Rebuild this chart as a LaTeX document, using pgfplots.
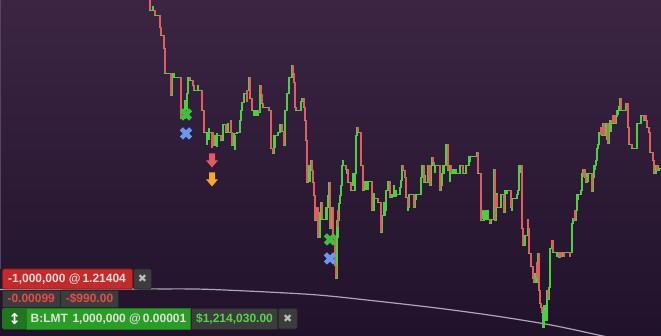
\documentclass[border=0pt]{standalone}
\usepackage{pgfplots}
\usepackage{pgfplotstable}
\pgfplotsset{compat=1.18}
\usepackage{fontspec}
\setmainfont{Liberation Sans}
\newfontfamily\symfont{DejaVu Sans}

\definecolor{bgtop}{RGB}{59,37,67}
\definecolor{bgbot}{RGB}{33,18,43}
\definecolor{cgreen}{RGB}{76,208,66}
\definecolor{cred}{RGB}{226,94,94}
\definecolor{xgreen}{RGB}{62,192,58}
\definecolor{xblue}{RGB}{104,152,240}
\definecolor{ared}{RGB}{230,88,98}
\definecolor{aorange}{RGB}{246,168,40}
\definecolor{boxred}{RGB}{196,42,42}
\definecolor{boxredd}{RGB}{150,20,20}
\definecolor{boxgrey}{RGB}{60,60,62}
\definecolor{boxgreyd}{RGB}{38,38,40}
\definecolor{boxgreen}{RGB}{40,158,36}
\definecolor{boxgreend}{RGB}{28,120,26}
\definecolor{txtlight}{RGB}{226,222,222}
\definecolor{txtred}{RGB}{236,72,72}
\definecolor{txtgreen}{RGB}{86,212,72}
\definecolor{curvec}{RGB}{172,168,182}

\pgfdeclareplotmark{fatx}{%
  \pgfpathmoveto{\pgfqpoint{0pt}{3.11pt}}
  \pgfpathlineto{\pgfqpoint{-3.04pt}{6.15pt}}
  \pgfpathlineto{\pgfqpoint{-6.15pt}{3.04pt}}
  \pgfpathlineto{\pgfqpoint{-3.11pt}{0pt}}
  \pgfpathlineto{\pgfqpoint{-6.15pt}{-3.04pt}}
  \pgfpathlineto{\pgfqpoint{-3.04pt}{-6.15pt}}
  \pgfpathlineto{\pgfqpoint{0pt}{-3.11pt}}
  \pgfpathlineto{\pgfqpoint{3.04pt}{-6.15pt}}
  \pgfpathlineto{\pgfqpoint{6.15pt}{-3.04pt}}
  \pgfpathlineto{\pgfqpoint{3.11pt}{0pt}}
  \pgfpathlineto{\pgfqpoint{6.15pt}{3.04pt}}
  \pgfpathlineto{\pgfqpoint{3.04pt}{6.15pt}}
  \pgfpathclose
  \pgfusepathqfill}
\pgfdeclareplotmark{darrow}{%
  \pgfpathmoveto{\pgfqpoint{-3pt}{7pt}}
  \pgfpathlineto{\pgfqpoint{3pt}{7pt}}
  \pgfpathlineto{\pgfqpoint{3pt}{0pt}}
  \pgfpathlineto{\pgfqpoint{6pt}{0pt}}
  \pgfpathlineto{\pgfqpoint{0pt}{-7pt}}
  \pgfpathlineto{\pgfqpoint{-6pt}{0pt}}
  \pgfpathlineto{\pgfqpoint{-3pt}{0pt}}
  \pgfpathclose
  \pgfusepathqfill}

% price path (x = bar position, y = screen level, larger = lower price)
\pgfplotstableread{
x y
150 0
150 10
155 15
160 27
161 35
163 35
164 48
165 73
170 73
171 95
172 77
176 77
181 118
185 100
187 93
188 77
190 80
193 85
194 90
201 90
202 110
204 132
212 132
213 145
215 135
220 135
221 140
223 124
226 132
231 132
232 145
234 133
237 132
240 120
241 110
242 102
244 93
247 90
249 77
250 98
252 110
259 112
260 85
261 94
262 103
263 107
268 107
269 110
271 110
271 148
273 153
274 135
278 132
280 124
282 131
284 145
285 110
287 93
289 77
292 65
293 73
294 82
295 107
296 110
300 110
301 101
303 98
304 107
305 120
306 140
307 182
308 177
309 165
311 160
312 170
313 182
314 195
315 220
317 207
318 237
319 237
320 219
321 202
322 219
327 219
327 207
328 195
329 182
330 228
331 220
332 207
333 237
334 237
335 265
336 278
337 237
338 220
339 203
340 195
341 185
342 165
345 165
346 169
348 182
350 182
351 190
354 190
355 173
356 135
357 127
358 132
361 132
361 165
363 190
364 181
370 181
372 210
374 198
377 198
378 202
381 202
381 232
382 215
385 210
386 190
388 181
390 197
392 194
397 194
400 187
401 180
402 165
403 170
405 177
406 197
408 207
409 194
414 194
414 207
415 194
418 194
421 177
422 165
424 182
427 182
428 165
430 185
431 165
432 157
433 162
434 165
440 165
440 190
441 185
442 173
444 165
446 144
448 170
450 165
451 173
459 173
460 165
463 173
466 165
469 156
476 156
477 152
478 173
480 173
481 220
484 210
484 219
489 219
490 223
491 219
494 169
495 220
496 195
497 207
501 207
501 194
504 194
504 212
505 190
508 190
511 207
512 198
517 194
518 190
519 165
521 165
522 228
523 245
525 235
528 228
529 253
531 266
533 278
534 282
536 282
537 262
538 253
539 290
540 303
541 307
542 312
543 327
544 305
545 312
546 320
547 290
548 299
549 287
550 248
552 240
553 252
559 252
559 257
560 252
571 252
572 223
573 218
574 220
576 210
577 194
580 194
581 190
582 173
583 169
585 177
586 182
587 173
592 173
592 191
593 177
594 165
596 160
597 148
598 144
599 132
601 127
602 135
603 123
604 135
606 123
608 143
609 125
610 120
612 123
613 115
615 123
616 116
617 110
619 106
620 98
621 110
626 110
627 103
628 127
629 144
631 144
632 148
636 148
637 123
640 123
641 115
644 115
644 120
647 127
649 132
650 152
651 152
653 160
654 173
656 165
657 170
659 168
661 168
}\pathdata

% falling moves (x, top, bottom)
\pgfplotstableread{
x t b
150 0 10
155 10 15
160 15 27
161 27 35
164 35 48
165 48 73
171 73 95
181 77 118
190 77 80
193 80 85
194 85 90
202 90 110
204 110 132
212 132 148
213 132 145
221 135 140
226 124 132
231 120 132
232 132 145
247 90 102
250 77 98
252 98 110
259 110 112
261 85 94
262 94 103
263 103 107
269 107 110
271 110 148
273 148 153
282 124 131
284 131 145
293 65 73
294 73 82
295 82 107
296 107 110
304 98 107
305 107 120
306 120 140
307 140 182
312 160 170
313 170 182
314 182 195
315 195 220
317 207 220
318 207 237
322 202 219
330 182 228
333 207 237
335 237 265
336 265 278
338 210 227
346 165 169
348 169 182
351 182 190
358 127 132
361 132 165
363 165 190
372 181 210
378 198 202
381 202 232
390 181 197
403 165 170
405 170 177
406 177 197
408 197 207
414 194 207
424 165 182
429 165 182
430 165 185
433 157 162
434 162 165
440 165 190
448 144 170
451 165 173
463 165 173
478 152 173
481 173 220
490 219 223
495 169 220
497 195 207
504 194 212
511 190 207
522 165 228
523 228 245
528 219 228
529 228 253
531 253 266
533 266 278
534 278 282
537 262 278
539 253 290
540 290 303
541 303 307
542 307 312
548 290 299
552 240 245
553 240 252
559 252 257
561 252 257
564 252 257
570 252 257
574 218 220
575 210 220
584 169 177
585 169 177
586 177 182
592 173 191
601 127 135
602 127 135
604 123 135
608 123 143
612 120 123
613 115 123
615 115 123
621 98 110
627 103 111
628 103 127
629 127 144
632 144 148
644 115 120
646 115 120
647 120 127
649 127 132
650 132 152
653 152 160
654 160 173
657 165 170
}\redseg

% rising wicks and bodies (x, top, bottom)
\pgfplotstableread{
x t b
153 6 10
173 73 77
174 73 77
187 98 110
198 85 90
207 132 145
209 128 140
217 133 147
228 123 132
235 135 150
254 110 116
256 110 116
258 110 116
275 135 148
302 98 102
309 165 182
310 165 182
320 212 225
326 207 219
337 220 237
343 160 165
347 169 174
353 173 186
366 181 190
368 181 190
374 193 198
384 202 215
394 185 197
396 190 197
408 198 211
416 194 200
425 175 182
435 165 173
443 165 173
450 165 182
452 169 173
454 169 173
456 169 173
470 156 162
482 210 219
483 210 219
486 210 219
488 210 219
497 193 207
506 190 194
507 190 194
512 198 211
520 165 173
524 235 242
535 273 282
538 255 275
545 305 320
557 252 257
563 252 257
578 194 200
588 173 182
595 165 170
607 125 140
611 120 132
618 110 115
626 103 111
655 165 173
658 165 170
}\greenseg

\begin{document}
\begin{tikzpicture}
\shade[top color=bgtop, bottom color=bgbot] (0,0) rectangle (661pt,335pt);
\draw[color={rgb,255:red,88;green,68;blue,98}, line width=0.8pt] (0.4pt,335pt) -- (0.4pt,66pt);
\begin{axis}[at={(0,0)}, anchor=south west, width=661pt, height=335pt,
  scale only axis, xmin=0, xmax=661, ymin=0, ymax=335, y dir=reverse,
  hide axis, clip=true]
  \addplot[curvec, line width=1.2pt, smooth] coordinates {
    (0,289) (100,288.6) (160,288.5) (210,289) (310,294) (375,300.5)
    (440,308) (495,315.5) (545,323.5) (575,329.5) (600,335) (620,339)};
  \addplot[cgreen, line width=1.4pt, const plot] table[x=x,y=y] {\pathdata};
  \addplot[cgreen, line width=1.4pt, quiver={u=0, v=\thisrow{b}-\thisrow{t}}]
     table[x=x,y=t] {\greenseg};
  \addplot[cred, line width=1.4pt, quiver={u=0, v=\thisrow{b}-\thisrow{t}}]
     table[x=x,y=t] {\redseg};
  \addplot[only marks, mark=fatx, color=xgreen] coordinates {(186,114) (330,239)};
  \addplot[only marks, mark=fatx, color=xblue] coordinates {(186,133) (330,258)};
  \addplot[only marks, mark=darrow, color=ared] coordinates {(212,160)};
  \addplot[only marks, mark=darrow, color=aorange] coordinates {(212,179)};
\end{axis}
\begin{scope}[yshift=335pt, x=1pt, y=-1pt, every node/.style={font=\bfseries\fontsize{12}{14}\selectfont, inner sep=0pt}]
  % row 1
  \filldraw[fill=boxred, draw=boxredd, line width=0.8pt, rounded corners=1.5pt] (2.5,268.5) rectangle (132.5,288.5);
  \node[text=txtlight] at (67,278.8) {-1,000,000 @\hspace{2pt}1.21404};
  \filldraw[fill=boxgrey, draw=boxgreyd, line width=0.8pt, rounded corners=1.5pt] (133.5,268.5) rectangle (151.5,288.5);
  \node[text={rgb,255:red,190;green,190;blue,190}, font=\symfont\fontsize{11}{13}\selectfont] at (142.5,278.5) {✖};
  % row 2
  \filldraw[fill=boxgrey, draw=boxgreyd, line width=0.8pt] (2.5,289.5) rectangle (60,306.5);
  \node[text=txtred] at (31.2,298.3) {-0.00099};
  \filldraw[fill=boxgrey, draw=boxgreyd, line width=0.8pt] (60.8,289.5) rectangle (118.3,306.5);
  \node[text=txtred] at (89.5,298.3) {-\$990.00};
  % row 3
  \filldraw[fill=boxgreend, draw=boxgreend, line width=0.8pt, rounded corners=1.5pt] (2.5,308) rectangle (26.7,328.5);
  \node[text=white, font=\symfont\bfseries\fontsize{15}{16}\selectfont] at (14.6,318.2) {↕};
  \filldraw[fill=boxgreen, draw=boxgreend, line width=0.8pt] (26.7,308) rectangle (190.7,328.5);
  \node[text=txtlight] at (108.5,318.5) {B:LMT\hspace{4.5pt}1,000,000 @\hspace{2pt}0.00001};
  \filldraw[fill=boxgrey, draw=boxgreyd, line width=0.8pt] (191.7,308) rectangle (277.3,328.5);
  \node[text=txtgreen] at (234.5,318.5) {\$1,214,030.00};
  \filldraw[fill=boxgrey, draw=boxgreyd, line width=0.8pt, rounded corners=1.5pt] (278.3,308) rectangle (297.3,328.5);
  \node[text={rgb,255:red,190;green,190;blue,190}, font=\symfont\fontsize{11}{13}\selectfont] at (287.8,318.2) {✖};
\end{scope}
\end{tikzpicture}
\end{document}
